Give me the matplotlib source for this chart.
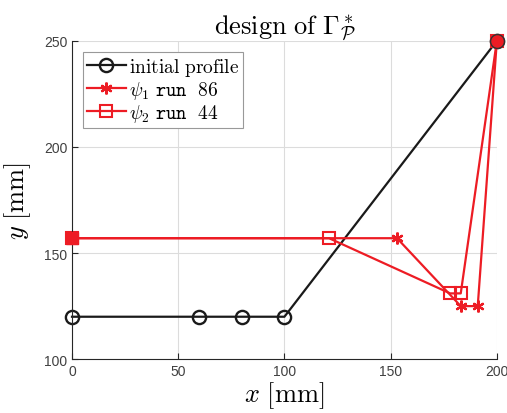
import numpy as np
import matplotlib.pyplot as plt

plt.rcParams['mathtext.fontset'] = 'cm'
plt.rcParams['font.family'] = ['Liberation Sans', 'DejaVu Sans']

# initial profile
x_init = [0, 60, 80, 100, 200]
y_init = [120, 120, 120, 120, 250]

# psi_1, run 86
x_psi1 = [0, 153, 183, 191, 200]
y_psi1 = [157, 157, 125, 125, 250]

# psi_2, run 44
x_psi2 = [0, 121, 178, 183, 200]
y_psi2 = [157, 157, 131, 131, 250]

red = '#ed1c24'
gray = '#262626'

fig = plt.figure(figsize=(5.07, 4.14), dpi=100)
ax = fig.add_axes([0.142, 0.130, 0.838, 0.769])

ax.plot(x_init, y_init, '-o', color='#1a1a1a', lw=1.6, ms=9.5,
        mfc='none', mew=1.7, label=r'$\mathrm{initial\ profile}$',
        clip_on=False)
ax.plot(x_psi1, y_psi1, '-', color=red, lw=1.6, marker=(6, 2, 0), ms=8.5,
        mew=1.6, label=r'$\psi_1\ \mathtt{run}\ \ \mathtt{86}$',
        clip_on=False)
ax.plot(x_psi2, y_psi2, '-s', color=red, lw=1.6, ms=8, mfc='none',
        mew=1.5, label=r'$\psi_2\ \mathtt{run}\ \ \mathtt{44}$',
        clip_on=False)

# fixed end points
ax.plot(x_psi2[0], y_psi2[0], 's', color=red, ms=9, zorder=5, clip_on=False)
ax.plot(x_init[-1], y_init[-1], 'o', mfc=red, mec='#333333', ms=10,
        mew=1.0, zorder=5, clip_on=False)

ax.set_xlim(0, 200)
ax.set_ylim(100, 250)
ax.set_xticks([0, 50, 100, 150, 200])
ax.set_yticks([100, 150, 200, 250])
ax.grid(True, color='#dcdcdc', lw=0.8)
ax.set_axisbelow(True)
for s in ['top', 'right']:
    ax.spines[s].set_visible(False)
for s in ['left', 'bottom']:
    ax.spines[s].set_color(gray)
    ax.spines[s].set_linewidth(0.8)
ax.tick_params(direction='in', colors=gray, labelsize=10, length=4,
               labelcolor='#404040')

ax.set_xlabel(r'$x\ [\mathrm{mm}]$', fontsize=19, labelpad=1)
ax.set_ylabel(r'$y\ [\mathrm{mm}]$', fontsize=19, labelpad=8)
ax.set_title(r'$\mathrm{design\ of}\ \Gamma^*_{\mathcal{P}}$', fontsize=19,
             pad=3)

leg = ax.legend(loc='upper left', bbox_to_anchor=(0.026, 0.965),
                fontsize=14, fancybox=False, framealpha=1,
                edgecolor='#999999', handlelength=2.0, handletextpad=0.15,
                borderpad=0.2, labelspacing=0.05, borderaxespad=0)
leg.get_frame().set_linewidth(0.8)

fig.savefig('out.png', dpi=100)
